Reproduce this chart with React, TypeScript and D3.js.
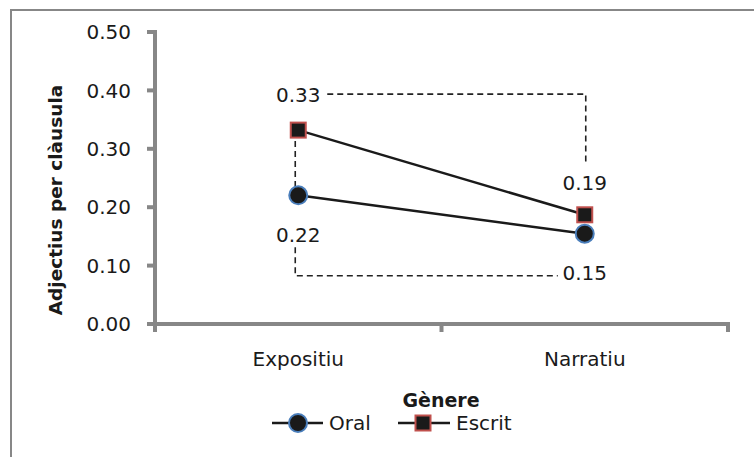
import React from "react";
import * as d3 from "d3";

const categories = ["Expositiu", "Narratiu"];
const seriesNames = ["Oral", "Escrit"];
const oralValues = [0.2204, 0.1546];
const escritValues = [0.332, 0.187];
const yTicks = [0, 0.1, 0.2, 0.3, 0.4, 0.5];
const labelTexts = ["0.22", "0.15", "0.33", "0.19"];

const W = 754;
const H = 457;
const FONT = "'DejaVu Sans', sans-serif";
const AXIS = "#878787";
const DASH = "#222";

export default function App() {
  const y = d3.scaleLinear().domain([0, 0.5]).range([324, 32]);
  const xBand = d3.scaleBand<string>().domain(categories).range([155, 728]);
  const xc = (c: string) => (xBand(c) as number) + xBand.bandwidth() / 2;

  const line = d3
    .line<number>()
    .x((_, i) => xc(categories[i]))
    .y((v) => y(v));

  const xE = xc(categories[0]);
  const xN = xc(categories[1]);

  const l33 = { x: xE, y: y(escritValues[0]) - 35 };
  const l19 = { x: xN, y: y(escritValues[1]) - 32 };
  const l22 = { x: xE, y: y(oralValues[0]) + 40 };
  const l15 = { x: xN, y: y(oralValues[1]) + 39 };

  const dashTop = `M${l33.x + 29},${l33.y - 1} H${xN + 1} V${l19.y - 21}`;
  const dashMid = `M${xE - 3},${y(escritValues[0]) + 11} V${y(oralValues[0]) - 9}`;
  const dashBot = `M${xE - 3},${l22.y + 12} V${l15.y + 3} H${l15.x - 27}`;

  const sq = 15;
  const cr = 9;

  return (
    <svg
      width={W}
      height={H}
      style={{ position: "absolute", left: 0, top: 0, background: "#fff" }}
      fontFamily={FONT}
    >
      <rect x={11} y={10} width={780} height={480} fill="#fff" stroke={AXIS} strokeWidth={2} />

      {/* y axis */}
      <line x1={155} x2={155} y1={y(0.5) - 2} y2={331} stroke={AXIS} strokeWidth={4} />
      {yTicks.map((t) => (
        <g key={t}>
          <line x1={147} x2={155} y1={y(t)} y2={y(t)} stroke={AXIS} strokeWidth={4} />
          <text x={131} y={y(t)} dy="0.36em" textAnchor="end" fontSize={20} fill="#1a1a1a">
            {t.toFixed(2)}
          </text>
        </g>
      ))}

      {/* x axis */}
      <line x1={149} x2={730} y1={y(0)} y2={y(0)} stroke={AXIS} strokeWidth={4} />
      {[155, ...categories.map((c) => (xBand(c) as number) + xBand.bandwidth())].map((tx, i) => (
        <line key={i} x1={tx} x2={tx} y1={y(0)} y2={y(0) + 8} stroke={AXIS} strokeWidth={4} />
      ))}
      {categories.map((c) => (
        <text key={c} x={xc(c)} y={366} textAnchor="middle" fontSize={20} fill="#1a1a1a">
          {c}
        </text>
      ))}

      {/* axis titles */}
      <text
        transform={`translate(62,200) rotate(-90)`}
        textAnchor="middle"
        fontSize={18.5}
        fontWeight="bold"
        fill="#1a1a1a"
      >
        Adjectius per clàusula
      </text>
      <text x={441} y={407} textAnchor="middle" fontSize={19} fontWeight="bold" fill="#1a1a1a">
        Gènere
      </text>

      {/* dashed callouts */}
      <path d={dashTop} fill="none" stroke={DASH} strokeWidth={1.6} strokeDasharray="6,4" />
      <path d={dashMid} fill="none" stroke={DASH} strokeWidth={1.6} strokeDasharray="6,4" />
      <path d={dashBot} fill="none" stroke={DASH} strokeWidth={1.6} strokeDasharray="6,4" />

      {/* lines */}
      <path d={line(oralValues) as string} fill="none" stroke="#1a1a1a" strokeWidth={2.5} />
      <path d={line(escritValues) as string} fill="none" stroke="#1a1a1a" strokeWidth={2.5} />

      {/* markers */}
      {oralValues.map((v, i) => (
        <circle key={"o" + i} cx={xc(categories[i])} cy={y(v)} r={cr} fill="#1a1a1a" stroke="#4a7ebb" strokeWidth={2} />
      ))}
      {escritValues.map((v, i) => (
        <rect
          key={"e" + i}
          x={xc(categories[i]) - sq / 2}
          y={y(v) - sq / 2}
          width={sq}
          height={sq}
          fill="#1a1a1a"
          stroke="#c0504d"
          strokeWidth={2}
        />
      ))}

      {/* data labels */}
      {[l22, l15, l33, l19].map((p, i) => (
        <text key={i} x={p.x} y={p.y} dy="0.36em" textAnchor="middle" fontSize={20} fill="#1a1a1a">
          {labelTexts[i]}
        </text>
      ))}

      {/* legend */}
      <g>
        <line x1={272} x2={323} y1={423} y2={423} stroke="#1a1a1a" strokeWidth={2.5} />
        <circle cx={298} cy={423} r={cr} fill="#1a1a1a" stroke="#4a7ebb" strokeWidth={2} />
        <text x={329} y={423} dy="0.36em" fontSize={20} fill="#1a1a1a">
          {seriesNames[0]}
        </text>
        <line x1={398} x2={450} y1={423} y2={423} stroke="#1a1a1a" strokeWidth={2.5} />
        <rect x={423 - sq / 2} y={423 - sq / 2} width={sq} height={sq} fill="#1a1a1a" stroke="#c0504d" strokeWidth={2} />
        <text x={456} y={423} dy="0.36em" fontSize={20} fill="#1a1a1a">
          {seriesNames[1]}
        </text>
      </g>
    </svg>
  );
}
